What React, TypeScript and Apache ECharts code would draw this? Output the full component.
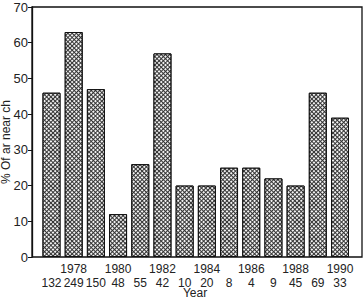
import React, { useEffect, useRef } from "react";
import * as echarts from "echarts";

const years = ["1977", "1978", "1979", "1980", "1981", "1982", "1983", "1984", "1985", "1986", "1987", "1988", "1989", "1990"];
const shownYears = ["1978", "1980", "1982", "1984", "1986", "1988", "1990"];
const counts = ["132", "249", "150", "48", "55", "42", "10", "20", "8", "4", "9", "45", "69", "33"];
const percents = [46, 63, 47, 12, 26, 57, 20, 20, 25, 25, 22, 20, 46, 39];
const yTicks = { min: 0, max: 70, interval: 10 };

export default function App() {
  const ref = useRef<HTMLDivElement>(null);
  useEffect(() => {
    const chart = echarts.init(ref.current!, null, { renderer: "svg" });
    const font = "Liberation Sans, Arial, Helvetica, sans-serif";
    chart.setOption({
      animation: false,
      backgroundColor: "#fff",
      textStyle: { fontFamily: font, color: "#222" },
      grid: [
        { left: 32, top: 7, width: 330, height: 250, show: true, borderColor: "#111", borderWidth: 1.3, backgroundColor: "transparent", outerBoundsMode: "none", containLabel: false },
        { left: 40.4, top: 7, width: 310.7, height: 250, outerBoundsMode: "none", containLabel: false },
      ],
      xAxis: [
        { type: "category", gridIndex: 0, show: false, data: years },
        {
          type: "category",
          gridIndex: 1,
          data: years,
          axisLine: { show: false },
          axisTick: { show: false },
          axisLabel: {
            interval: 0,
            margin: 5,
            fontSize: 12,
            lineHeight: 14,
            color: "#222",
            fontFamily: font,
            formatter: (v: string, i: number) => (shownYears.includes(v) ? v : " ") + "\n" + counts[i],
          },
        },
      ],
      yAxis: [
        {
          type: "value",
          gridIndex: 0,
          min: yTicks.min,
          max: yTicks.max,
          interval: yTicks.interval,
          splitLine: { show: false },
          axisLine: { show: true, lineStyle: { color: "#111", width: 1.3 } },
          axisTick: { show: true, length: 4, lineStyle: { color: "#111" } },
          axisLabel: { fontSize: 13, margin: 4, color: "#222", fontFamily: font },
        },
        { type: "value", gridIndex: 1, min: yTicks.min, max: yTicks.max, interval: yTicks.interval, show: false, splitLine: { show: false } },
      ],
      graphic: [
        {
          type: "text",
          x: 6,
          y: 142,
          rotation: Math.PI / 2,
          style: { text: "% Of ar near ch", fontSize: 12, fontFamily: font, fill: "#222", align: "center", verticalAlign: "middle" },
        },
        {
          type: "text",
          x: 195,
          y: 287,
          style: { text: "Year", fontSize: 12, fontFamily: font, fill: "#222", align: "center", verticalAlign: "top" },
        },
      ],
      series: [
        {
          type: "bar",
          xAxisIndex: 1,
          yAxisIndex: 1,
          data: percents,
          barWidth: 18,
          itemStyle: {
            color: "#333",
            borderColor: "#111",
            borderWidth: 1,
            decal: {
              symbol: "rect",
              symbolSize: 1,
              color: "#f2f2f2",
              backgroundColor: "#333",
              dashArrayX: [2, 1],
              dashArrayY: [2, 1],
              rotation: Math.PI / 4,
            },
          },
        },
      ],
    });
    return () => chart.dispose();
  }, []);
  return <div ref={ref} style={{ width: 364, height: 298, position: "absolute", left: 0, top: 0 }} />;
}
